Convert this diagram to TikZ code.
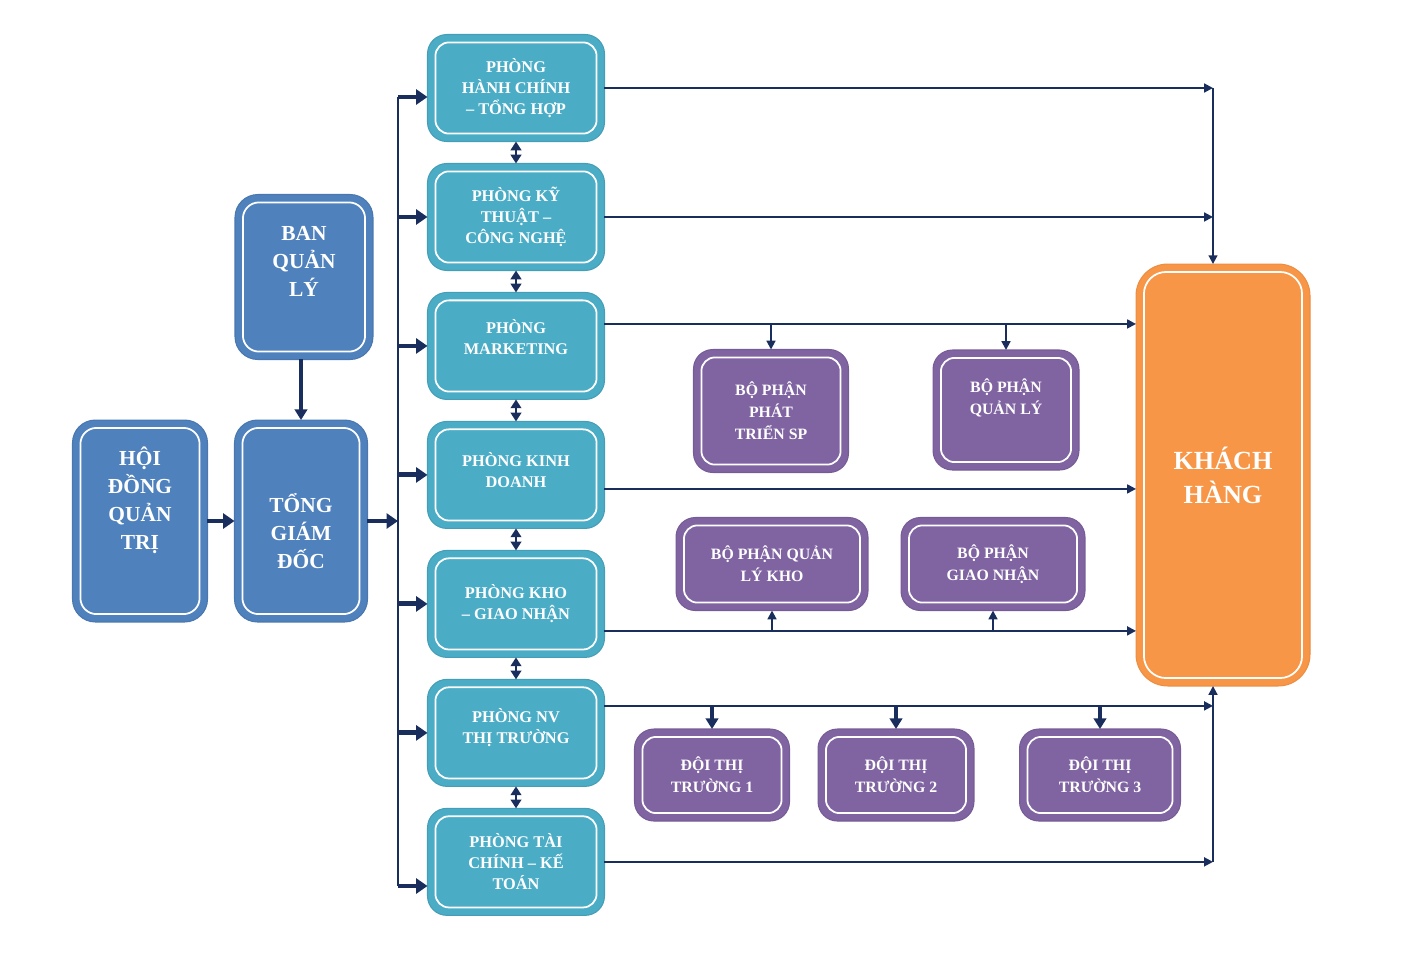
\documentclass[tikz,border=0pt]{standalone}
\usepackage{fontspec}
\setmainfont{Liberation Serif}
\usetikzlibrary{arrows.meta, positioning}
\definecolor{navy}{RGB}{26,46,94}
\definecolor{boxblue}{HTML}{4F81BD}
\definecolor{boxcyan}{HTML}{4BACC6}
\definecolor{boxpurple}{HTML}{8064A2}
\definecolor{boxorange}{HTML}{F79646}
\newcommand\padline[1]{\\[#1]\rule{0pt}{0pt}}

\begin{document}
\begin{tikzpicture}[x=0.02cm, y=-0.02cm, >={Triangle[length=5pt,width=5pt]},
  box/.style={rectangle, rounded corners=#1, line width=0.6pt, outer sep=0pt,
    inner sep=2pt, align=center, text=white,
    path picture={\draw[white, line width=1pt, rounded corners=0.7*#1]
      ([shift={(4.5pt,4.5pt)}]path picture bounding box.south west) rectangle
      ([shift={(-4.5pt,-4.5pt)}]path picture bounding box.north east);}},
  blue node/.style={box=13pt, fill=boxblue, draw=boxblue!92!black,
    font=\bfseries\fontsize{12.2}{15.9}\selectfont},
  room node/.style={box=11pt, fill=boxcyan, draw=boxcyan!92!black,
    minimum width=3.54cm, minimum height=2.14cm,
    font=\bfseries\fontsize{9.3}{12}\selectfont},
  part node/.style={box=11pt, fill=boxpurple, draw=boxpurple!92!black,
    font=\bfseries\fontsize{9}{12.5}\selectfont},
  client node/.style={box=18pt, fill=boxorange, draw=boxorange!95!black,
    minimum width=3.48cm, minimum height=8.44cm,
    font=\bfseries\fontsize{14.9}{19.3}\selectfont},
  link/.style={draw=navy, line width=1.1pt},
  both/.style={draw=navy, line width=1.4pt,
    {Triangle[length=5pt,width=6pt]}-{Triangle[length=5pt,width=6pt]}},
  feed/.style={draw=navy, line width=1.8pt, -{Triangle[length=6pt,width=7pt]}},
  bigarrow/.style={draw=navy, line width=2.8pt, -{Triangle[length=6.5pt,width=8.5pt]}}]
  \useasboundingbox (0,0) rectangle (1416,968);

  % left side
  \node[blue node, minimum width=2.7cm, minimum height=4.04cm] (hdqt) at (140,521) {HỘI\\ĐỒNG\\QUẢN\\TRỊ\padline{10.5pt}};
  \node[blue node, minimum width=2.66cm, minimum height=4.04cm] (tgd) at (301,521) {\rule{0pt}{22pt}TỔNG\\GIÁM\\ĐỐC};
  \node[blue node, minimum width=2.76cm, minimum height=3.3cm] (bql) at (304,277) {BAN\\QUẢN\\LÝ\padline{2.3pt}};

  % phong ban
  \node[room node] (p1) at (516,88) {PHÒNG\\HÀNH CHÍNH\\– TỔNG HỢP};
  \node[room node, below=0.44cm of p1] (p2) {PHÒNG KỸ\\THUẬT –\\CÔNG NGHỆ};
  \node[room node, below=0.44cm of p2] (p3) {PHÒNG\\MARKETING\padline{-2pt}};
  \node[room node, below=0.44cm of p3] (p4) {PHÒNG KINH\\DOANH\padline{-6.4pt}};
  \node[room node, below=0.44cm of p4] (p5) {PHÒNG KHO\\– GIAO NHẬN};
  \node[room node, below=0.44cm of p5] (p6) {PHÒNG NV\\THỊ TRƯỜNG\padline{-4pt}};
  \node[room node, below=0.44cm of p6] (p7) {PHÒNG TÀI\\CHÍNH – KẾ\\TOÁN};

  % bo phan, doi
  \node[part node, minimum width=3.1cm, minimum height=2.46cm] (bpsp) at (771,411) {BỘ PHẬN\\PHÁT\\TRIỂN SP};
  \node[part node, minimum width=2.92cm, minimum height=2.4cm] (bpql) at (1006,410) {BỘ PHẬN\\QUẢN LÝ\padline{2.3pt}};
  \node[part node, minimum width=3.84cm, minimum height=1.86cm] (bpqlk) at (772,564) {BỘ PHẬN QUẢN\\LÝ KHO};
  \node[part node, minimum width=3.68cm, minimum height=1.86cm] (bpgn) at (993,564) {BỘ PHẬN\\GIAO NHẬN};
  \node[part node, minimum width=3.1cm, minimum height=1.84cm] (doi1) at (712,775) {ĐỘI THỊ\\TRƯỜNG 1};
  \node[part node, minimum width=3.12cm, minimum height=1.84cm] (doi2) at (896,775) {ĐỘI THỊ\\TRƯỜNG 2};
  \node[part node, minimum width=3.22cm, minimum height=1.84cm] (doi3) at (1100,775) {ĐỘI THỊ\\TRƯỜNG 3};

  \node[client node] (kh) at (1223,475) {KHÁCH\\HÀNG};

  \coordinate (bustop) at (398,97);
  \coordinate (busbot) at (398,886);
  \coordinate (kx) at (1213,88);
  \coordinate (m3) at ([yshift=0.44cm]p3.east);
  \coordinate (m4) at ([yshift=-0.28cm]p4.east);
  \coordinate (m5) at ([yshift=-0.54cm]p5.east);
  \coordinate (m6) at ([yshift=0.54cm]p6.east);

  \draw[bigarrow] (hdqt) -- (tgd);
  \draw[feed] (bql.south -| tgd.north) -- (tgd.north);
  \draw[bigarrow] (tgd.east) -- (tgd.east -| bustop);
  \draw[link] (bustop) -- (busbot);
  \draw[bigarrow] (bustop) -- (bustop -| p1.west);
  \foreach \p in {p2,p3,p4,p5,p6}
    \draw[bigarrow] (bustop |- \p.west) -- (\p.west);
  \draw[bigarrow] (busbot) -- (busbot -| p7.west);
  \foreach \a/\b in {p1/p2,p2/p3,p3/p4,p4/p5,p5/p6,p6/p7}
    \draw[both] (\a) -- (\b);

  % toi khach hang
  \draw[link,->] (p1.east) -- (kx);
  \draw[link,->] (kx) -- (kx |- kh.north);
  \draw[link,->] (p2.east) -- (p2.east -| kx);
  \draw[link,->] (m3) -- (m3 -| kh.west);
  \draw[link,->] (m3 -| bpsp.north) -- (bpsp.north);
  \draw[link,->] (m3 -| bpql.north) -- (bpql.north);
  \draw[link,->] (m4) -- (m4 -| kh.west);
  \draw[link,->] (m5) -- (m5 -| kh.west);
  \draw[link,->] (m5 -| bpqlk.south) -- (bpqlk.south);
  \draw[link,->] (m5 -| bpgn.south) -- (bpgn.south);
  \draw[link,->] (m6) -- (m6 -| kx);
  \foreach \d in {doi1,doi2,doi3}
    \draw[feed] (m6 -| \d.north) -- (\d.north);
  \draw[link,->] (p7.east) -- (p7.east -| kx);
  \draw[link,->] (p7.east -| kx) -- (kx |- kh.south);
\end{tikzpicture}
\end{document}
